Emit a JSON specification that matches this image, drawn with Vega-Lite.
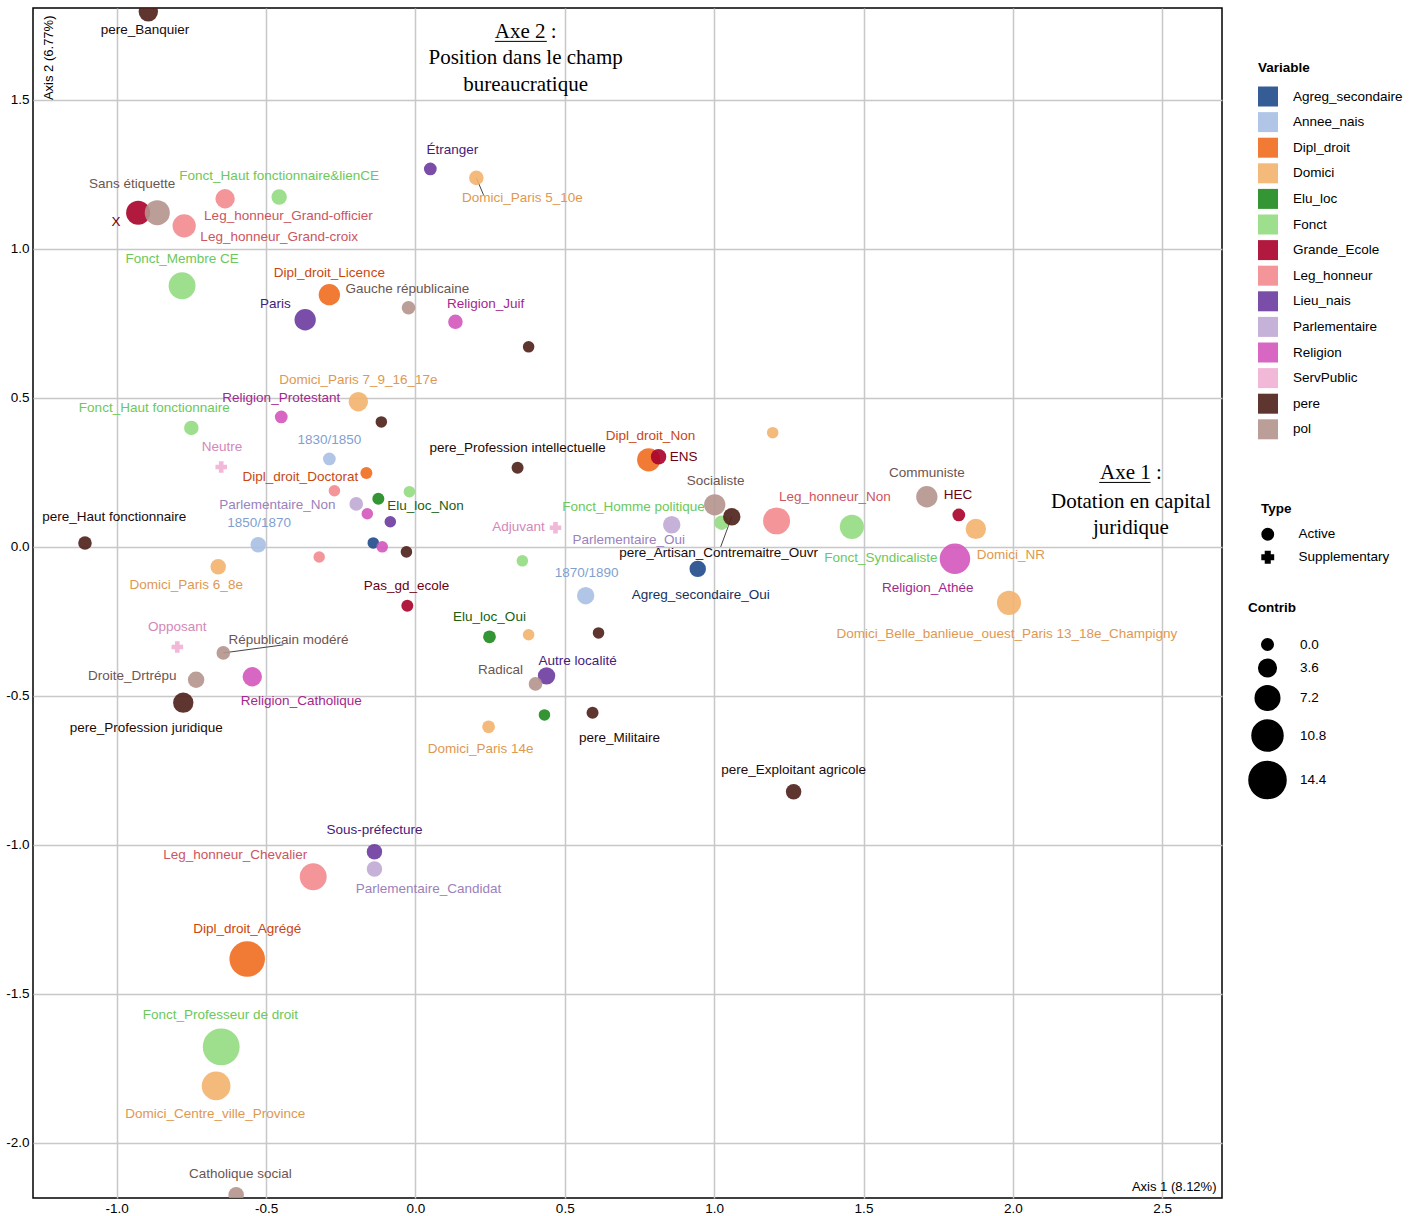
{
  "$schema": "https://vega.github.io/schema/vega-lite/v6.json",
  "width": 1189,
  "height": 1190,
  "autosize": "none",
  "padding": {"left": 33, "top": 8, "right": 197, "bottom": 18},
  "background": "white",
  "config": {
    "locale": {"number": {"decimal": ".", "thousands": ",", "grouping": [3], "currency": ["$", ""], "minus": "-"}},
    "font": "Liberation Sans",
    "view": {"stroke": "black", "strokeWidth": 1.5},
    "axis": {"grid": true, "gridColor": "#c8c8c8", "gridWidth": 1.5, "domain": false, "ticks": false, "labelFont": "Liberation Sans", "labelFontSize": 13.5, "labelColor": "black", "titleFont": "Liberation Sans", "titleFontSize": 13, "titleFontWeight": "normal", "titleColor": "black"},
    "axisX": {"labelPadding": 3, "titleX": 1183, "titleY": -5, "titleAlign": "right", "titleBaseline": "bottom"},
    "axisY": {"labelPadding": 4, "titleX": 15, "titleY": 7, "titleAlign": "right", "titleBaseline": "middle", "titleAngle": 270},
    "legend": {"labelFont": "Liberation Sans", "labelFontSize": 13.5, "titleFont": "Liberation Sans", "titleFontSize": 13.5, "titleFontWeight": "bold", "labelColor": "black", "titleColor": "black"}
  },
  "datasets": {
    "pts": [
      {"lab": "pere_Banquier", "v": "pere", "t": "Active", "x": -0.894, "y": 1.795, "c": 4.5, "lx": -0.905, "ly": 1.735},
      {"lab": "X", "v": "Grande_Ecole", "t": "Active", "x": -0.928, "y": 1.121, "c": 7, "lx": -1.002, "ly": 1.091},
      {"lab": "Sans étiquette", "v": "pol", "t": "Active", "x": -0.864, "y": 1.121, "c": 7.5, "lx": -0.948, "ly": 1.218},
      {"lab": "Leg_honneur_Grand-officier", "v": "Leg_honneur", "t": "Active", "x": -0.637, "y": 1.168, "c": 4.5, "lx": -0.425, "ly": 1.111},
      {"lab": "Fonct_Haut fonctionnaire&lienCE", "v": "Fonct", "t": "Active", "x": -0.456, "y": 1.174, "c": 2.5, "lx": -0.456, "ly": 1.245},
      {"lab": "Leg_honneur_Grand-croix", "v": "Leg_honneur", "t": "Active", "x": -0.774, "y": 1.077, "c": 6.5, "lx": -0.456, "ly": 1.04},
      {"lab": "Fonct_Membre CE", "v": "Fonct", "t": "Active", "x": -0.781, "y": 0.876, "c": 8.5, "lx": -0.781, "ly": 0.966},
      {"lab": "Dipl_droit_Licence", "v": "Dipl_droit", "t": "Active", "x": -0.288, "y": 0.846, "c": 5.5, "lx": -0.288, "ly": 0.919},
      {"lab": "Gauche républicaine", "v": "pol", "t": "Active", "x": -0.023, "y": 0.802, "c": 1.5, "lx": -0.027, "ly": 0.866},
      {"lab": "Paris", "v": "Lieu_nais", "t": "Active", "x": -0.369, "y": 0.762, "c": 5.5, "lx": -0.469, "ly": 0.815},
      {"lab": "Étranger", "v": "Lieu_nais", "t": "Active", "x": 0.05, "y": 1.268, "c": 1, "lx": 0.124, "ly": 1.332},
      {"lab": "Domici_Paris 5_10e", "v": "Domici", "t": "Active", "x": 0.204, "y": 1.238, "c": 2, "lx": 0.358, "ly": 1.171, "sx": 0.228, "sy": 1.181},
      {"lab": "Religion_Juif", "v": "Religion", "t": "Active", "x": 0.134, "y": 0.755, "c": 2, "lx": 0.235, "ly": 0.815},
      {"lab": "", "v": "pere", "t": "Active", "x": 0.379, "y": 0.671, "c": 0, "lx": 0.379, "ly": 0.671},
      {"lab": "Domici_Paris 7_9_16_17e", "v": "Domici", "t": "Active", "x": -0.191, "y": 0.487, "c": 4.5, "lx": -0.191, "ly": 0.56},
      {"lab": "Religion_Protestant", "v": "Religion", "t": "Active", "x": -0.449, "y": 0.436, "c": 1, "lx": -0.449, "ly": 0.5},
      {"lab": "", "v": "pere", "t": "Active", "x": -0.114, "y": 0.419, "c": 0, "lx": -0.114, "ly": 0.419},
      {"lab": "Fonct_Haut fonctionnaire", "v": "Fonct", "t": "Active", "x": -0.75, "y": 0.399, "c": 2, "lx": -0.874, "ly": 0.466},
      {"lab": "Neutre", "v": "ServPublic", "t": "Supplementary", "x": -0.65, "y": 0.268, "c": 0, "lx": -0.647, "ly": 0.336},
      {"lab": "1830/1850", "v": "Annee_nais", "t": "Active", "x": -0.288, "y": 0.295, "c": 1, "lx": -0.288, "ly": 0.359},
      {"lab": "Dipl_droit_Doctorat", "v": "Dipl_droit", "t": "Active", "x": -0.164, "y": 0.248, "c": 0.5, "lx": -0.385, "ly": 0.235},
      {"lab": "", "v": "Leg_honneur", "t": "Active", "x": -0.271, "y": 0.188, "c": 0, "lx": -0.271, "ly": 0.188},
      {"lab": "", "v": "Fonct", "t": "Active", "x": -0.02, "y": 0.185, "c": 0, "lx": -0.02, "ly": 0.185},
      {"lab": "Elu_loc_Non", "v": "Elu_loc", "t": "Active", "x": -0.124, "y": 0.161, "c": 0.5, "lx": 0.034, "ly": 0.138},
      {"lab": "Parlementaire_Non", "v": "Parlementaire", "t": "Active", "x": -0.198, "y": 0.144, "c": 1.5, "lx": -0.462, "ly": 0.141},
      {"lab": "", "v": "Religion", "t": "Active", "x": -0.161, "y": 0.111, "c": 0, "lx": -0.161, "ly": 0.111},
      {"lab": "", "v": "Lieu_nais", "t": "Active", "x": -0.084, "y": 0.084, "c": 0, "lx": -0.084, "ly": 0.084},
      {"lab": "pere_Haut fonctionnaire", "v": "pere", "t": "Active", "x": -1.106, "y": 0.013, "c": 1.5, "lx": -1.008, "ly": 0.101},
      {"lab": "1850/1870", "v": "Annee_nais", "t": "Active", "x": -0.526, "y": 0.007, "c": 2.5, "lx": -0.523, "ly": 0.081},
      {"lab": "", "v": "Agreg_secondaire", "t": "Active", "x": -0.141, "y": 0.013, "c": 0, "lx": -0.141, "ly": 0.013},
      {"lab": "", "v": "Religion", "t": "Active", "x": -0.111, "y": 0.0, "c": 0, "lx": -0.111, "ly": 0.0},
      {"lab": "", "v": "pere", "t": "Active", "x": -0.03, "y": -0.017, "c": 0, "lx": -0.03, "ly": -0.017},
      {"lab": "", "v": "Leg_honneur", "t": "Active", "x": -0.322, "y": -0.034, "c": 0, "lx": -0.322, "ly": -0.034},
      {"lab": "Domici_Paris 6_8e", "v": "Domici", "t": "Active", "x": -0.66, "y": -0.067, "c": 2.5, "lx": -0.767, "ly": -0.128},
      {"lab": "Pas_gd_ecole", "v": "Grande_Ecole", "t": "Active", "x": -0.027, "y": -0.198, "c": 0.5, "lx": -0.03, "ly": -0.131},
      {"lab": "Opposant", "v": "ServPublic", "t": "Supplementary", "x": -0.797, "y": -0.336, "c": 0, "lx": -0.797, "ly": -0.268},
      {"lab": "Républicain modéré", "v": "pol", "t": "Active", "x": -0.643, "y": -0.356, "c": 1.5, "lx": -0.425, "ly": -0.312, "sx": -0.442, "sy": -0.329},
      {"lab": "Droite_Drtrépu", "v": "pol", "t": "Active", "x": -0.734, "y": -0.446, "c": 3, "lx": -0.948, "ly": -0.433},
      {"lab": "Religion_Catholique", "v": "Religion", "t": "Active", "x": -0.546, "y": -0.436, "c": 4.5, "lx": -0.382, "ly": -0.517},
      {"lab": "pere_Profession juridique", "v": "pere", "t": "Active", "x": -0.777, "y": -0.523, "c": 5, "lx": -0.901, "ly": -0.607},
      {"lab": "Sous-préfecture", "v": "Lieu_nais", "t": "Active", "x": -0.137, "y": -1.023, "c": 2.5, "lx": -0.137, "ly": -0.95},
      {"lab": "Parlementaire_Candidat", "v": "Parlementaire", "t": "Active", "x": -0.137, "y": -1.081, "c": 2.5, "lx": 0.044, "ly": -1.148},
      {"lab": "Leg_honneur_Chevalier", "v": "Leg_honneur", "t": "Active", "x": -0.342, "y": -1.107, "c": 8.5, "lx": -0.603, "ly": -1.034},
      {"lab": "Dipl_droit_Agrégé", "v": "Dipl_droit", "t": "Active", "x": -0.563, "y": -1.383, "c": 13.5, "lx": -0.563, "ly": -1.282},
      {"lab": "Fonct_Professeur de droit", "v": "Fonct", "t": "Active", "x": -0.65, "y": -1.678, "c": 14.3, "lx": -0.653, "ly": -1.57},
      {"lab": "Domici_Centre_ville_Province", "v": "Domici", "t": "Active", "x": -0.667, "y": -1.809, "c": 9.5, "lx": -0.67, "ly": -1.903},
      {"lab": "Catholique social", "v": "pol", "t": "Active", "x": -0.6, "y": -2.174, "c": 2.5, "lx": -0.586, "ly": -2.104},
      {"lab": "pere_Profession intellectuelle", "v": "pere", "t": "Active", "x": 0.342, "y": 0.265, "c": 0.5, "lx": 0.342, "ly": 0.332},
      {"lab": "Dipl_droit_Non", "v": "Dipl_droit", "t": "Active", "x": 0.781, "y": 0.292, "c": 6.5, "lx": 0.787, "ly": 0.372},
      {"lab": "ENS", "v": "Grande_Ecole", "t": "Active", "x": 0.814, "y": 0.302, "c": 2.5, "lx": 0.898, "ly": 0.302},
      {"lab": "", "v": "Domici", "t": "Active", "x": 1.196, "y": 0.383, "c": 0, "lx": 1.196, "ly": 0.383},
      {"lab": "Fonct_Homme politique", "v": "Fonct", "t": "Active", "x": 1.025, "y": 0.081, "c": 2, "lx": 0.73, "ly": 0.134},
      {"lab": "Socialiste", "v": "pol", "t": "Active", "x": 1.002, "y": 0.141, "c": 5.5, "lx": 1.005, "ly": 0.221},
      {"lab": "pere_Artisan_Contremaitre_Ouvr", "v": "pere", "t": "Active", "x": 1.059, "y": 0.101, "c": 3.5, "lx": 1.015, "ly": -0.02, "sx": 1.022, "sy": 0.0},
      {"lab": "Leg_honneur_Non", "v": "Leg_honneur", "t": "Active", "x": 1.209, "y": 0.087, "c": 8.5, "lx": 1.404, "ly": 0.168},
      {"lab": "Parlementaire_Oui", "v": "Parlementaire", "t": "Active", "x": 0.858, "y": 0.074, "c": 3.5, "lx": 0.714, "ly": 0.023},
      {"lab": "Adjuvant", "v": "ServPublic", "t": "Supplementary", "x": 0.469, "y": 0.064, "c": 0, "lx": 0.345, "ly": 0.067},
      {"lab": "", "v": "Fonct", "t": "Active", "x": 0.358, "y": -0.047, "c": 0, "lx": 0.358, "ly": -0.047},
      {"lab": "1870/1890", "v": "Annee_nais", "t": "Active", "x": 0.57, "y": -0.164, "c": 3.5, "lx": 0.573, "ly": -0.087},
      {"lab": "Agreg_secondaire_Oui", "v": "Agreg_secondaire", "t": "Active", "x": 0.945, "y": -0.074, "c": 3, "lx": 0.955, "ly": -0.161},
      {"lab": "Elu_loc_Oui", "v": "Elu_loc", "t": "Active", "x": 0.248, "y": -0.302, "c": 1, "lx": 0.248, "ly": -0.235},
      {"lab": "", "v": "Domici", "t": "Active", "x": 0.379, "y": -0.295, "c": 0, "lx": 0.379, "ly": -0.295},
      {"lab": "", "v": "pere", "t": "Active", "x": 0.613, "y": -0.289, "c": 0, "lx": 0.613, "ly": -0.289},
      {"lab": "Autre localité", "v": "Lieu_nais", "t": "Active", "x": 0.439, "y": -0.433, "c": 3.5, "lx": 0.543, "ly": -0.383},
      {"lab": "Radical", "v": "pol", "t": "Active", "x": 0.402, "y": -0.46, "c": 1.5, "lx": 0.285, "ly": -0.413},
      {"lab": "", "v": "Elu_loc", "t": "Active", "x": 0.432, "y": -0.564, "c": 0, "lx": 0.432, "ly": -0.564},
      {"lab": "pere_Militaire", "v": "pere", "t": "Active", "x": 0.593, "y": -0.557, "c": 0.5, "lx": 0.683, "ly": -0.641},
      {"lab": "Domici_Paris 14e", "v": "Domici", "t": "Active", "x": 0.245, "y": -0.604, "c": 1, "lx": 0.218, "ly": -0.678},
      {"lab": "pere_Exploitant agricole", "v": "pere", "t": "Active", "x": 1.266, "y": -0.822, "c": 2.5, "lx": 1.266, "ly": -0.748},
      {"lab": "Fonct_Syndicaliste", "v": "Fonct", "t": "Active", "x": 1.461, "y": 0.067, "c": 7, "lx": 1.558, "ly": -0.037},
      {"lab": "Communiste", "v": "pol", "t": "Active", "x": 1.712, "y": 0.168, "c": 5.5, "lx": 1.712, "ly": 0.248},
      {"lab": "HEC", "v": "Grande_Ecole", "t": "Active", "x": 1.819, "y": 0.107, "c": 1, "lx": 1.816, "ly": 0.174},
      {"lab": "Domici_NR", "v": "Domici", "t": "Active", "x": 1.876, "y": 0.06, "c": 5, "lx": 1.993, "ly": -0.027},
      {"lab": "Religion_Athée", "v": "Religion", "t": "Active", "x": 1.806, "y": -0.04, "c": 10.5, "lx": 1.715, "ly": -0.138},
      {"lab": "Domici_Belle_banlieue_ouest_Paris 13_18e_Champigny", "v": "Domici", "t": "Active", "x": 1.987, "y": -0.188, "c": 7, "lx": 1.98, "ly": -0.292}
    ],
    "ann": [
      {"txt": "Axe 2 :", "x": 0.369, "y": 1.728},
      {"txt": "Position dans le champ", "x": 0.369, "y": 1.641},
      {"txt": "bureaucratique", "x": 0.369, "y": 1.55},
      {"txt": "Axe 1 :", "x": 2.395, "y": 0.248},
      {"txt": "Dotation en capital", "x": 2.395, "y": 0.151},
      {"txt": "juridique", "x": 2.395, "y": 0.064}
    ],
    "ul": [
      {"x": 0.266, "x2": 0.44, "y": 1.696},
      {"x": 2.289, "x2": 2.461, "y": 0.216}
    ]
  },
  "layer": [
    {
      "mark": {"type": "rule", "color": "black", "strokeWidth": 2, "strokeDash": [5, 3]},
      "encoding": {
        "x": {"datum": 0, "type": "quantitative", "scale": {"domain": [-1.28, 2.7], "nice": false, "zero": false}}
      }
    },
    {
      "mark": {"type": "rule", "color": "black", "strokeWidth": 2, "strokeDash": [5, 3]},
      "encoding": {
        "y": {"datum": 0, "type": "quantitative", "scale": {"domain": [-2.185, 1.808], "nice": false, "zero": false}}
      }
    },
    {
      "data": {"name": "pts"},
      "transform": [{"filter": "isValid(datum.sx)"}],
      "mark": {"type": "rule", "color": "#444444", "strokeWidth": 1},
      "encoding": {
        "x": {"field": "x", "type": "quantitative"},
        "y": {"field": "y", "type": "quantitative"},
        "x2": {"field": "sx"},
        "y2": {"field": "sy"}
      }
    },
    {
      "data": {"name": "pts"},
      "mark": {"type": "point", "filled": true, "opacity": 0.9, "clip": true},
      "encoding": {
        "x": {"field": "x", "type": "quantitative", "title": "Axis 1 (8.12%)", "scale": {"domain": [-1.28, 2.7], "nice": false, "zero": false}, "axis": {"values": [-1, -0.5, 0, 0.5, 1, 1.5, 2, 2.5], "format": ".1f"}},
        "y": {"field": "y", "type": "quantitative", "title": "Axis 2 (6.77%)", "scale": {"domain": [-2.185, 1.808], "nice": false, "zero": false}, "axis": {"values": [-2, -1.5, -1, -0.5, 0, 0.5, 1, 1.5], "format": ".1f"}},
        "color": {
          "field": "v", "type": "nominal",
          "scale": {
            "domain": ["Agreg_secondaire", "Annee_nais", "Dipl_droit", "Domici", "Elu_loc", "Fonct", "Grande_Ecole", "Leg_honneur", "Lieu_nais", "Parlementaire", "Religion", "ServPublic", "pere", "pol"],
            "range": ["#1f4a8a", "#a8c0e4", "#ef6b1f", "#f3b26e", "#1d8a1d", "#93dc82", "#a8002a", "#f3898f", "#6c3aa0", "#c0a8d4", "#d356bb", "#f1b0d4", "#4e2018", "#b4948c"]
          },
          "legend": {"title": "Variable", "orient": "none", "legendX": 1225, "legendY": 53, "symbolType": "square", "symbolSize": 400, "symbolStrokeWidth": 0, "symbolOpacity": 0.9, "labelOffset": 15, "rowPadding": 5.6, "titlePadding": 12}
        },
        "shape": {
          "field": "t", "type": "nominal",
          "scale": {"domain": ["Active", "Supplementary"], "range": ["circle", "cross"]},
          "legend": {"title": "Type", "orient": "none", "legendX": 1228, "legendY": 494, "symbolSize": 130, "symbolFillColor": "black", "symbolStrokeColor": "black", "symbolOpacity": 1, "labelOffset": 24, "rowPadding": 5, "titlePadding": 12}
        },
        "size": {
          "field": "c", "type": "quantitative",
          "scale": {"type": "pow", "exponent": 1.4, "domain": [0, 14.4], "range": [133, 1372]},
          "legend": {"title": "Contrib", "orient": "none", "legendX": 1215, "legendY": 593, "values": [0, 3.6, 7.2, 10.8, 14.4], "format": ".1f", "symbolFillColor": "black", "symbolStrokeColor": "black", "symbolOpacity": 1, "labelOffset": 13, "rowPadding": 2.5, "titlePadding": 23}
        }
      }
    },
    {
      "data": {"name": "pts"},
      "transform": [{"filter": "datum.lab != ''"}],
      "mark": {"type": "text", "fontSize": 13.5, "font": "Liberation Sans", "align": "center", "baseline": "middle", "clip": true},
      "encoding": {
        "x": {"field": "lx", "type": "quantitative"},
        "y": {"field": "ly", "type": "quantitative"},
        "text": {"field": "lab"},
        "fill": {
          "field": "v", "type": "nominal", "legend": null,
          "scale": {
            "domain": ["Agreg_secondaire", "Annee_nais", "Dipl_droit", "Domici", "Elu_loc", "Fonct", "Grande_Ecole", "Leg_honneur", "Lieu_nais", "Parlementaire", "Religion", "ServPublic", "pere", "pol"],
            "range": ["#14305e", "#7f9fcf", "#c9470f", "#e09850", "#19600f", "#6cc85a", "#6e0012", "#cc5560", "#45207a", "#9a82bb", "#a3278e", "#d487b8", "#1a0a08", "#6d5550"]
          }
        }
      }
    },
    {
      "data": {"name": "ann"},
      "mark": {"type": "text", "font": "Liberation Serif", "fontSize": 21, "color": "black", "align": "center", "baseline": "middle"},
      "encoding": {
        "x": {"field": "x", "type": "quantitative"},
        "y": {"field": "y", "type": "quantitative"},
        "text": {"field": "txt"}
      }
    },
    {
      "data": {"name": "ul"},
      "mark": {"type": "rule", "color": "black", "strokeWidth": 1},
      "encoding": {
        "x": {"field": "x", "type": "quantitative"},
        "x2": {"field": "x2"},
        "y": {"field": "y", "type": "quantitative"}
      }
    }
  ]
}
